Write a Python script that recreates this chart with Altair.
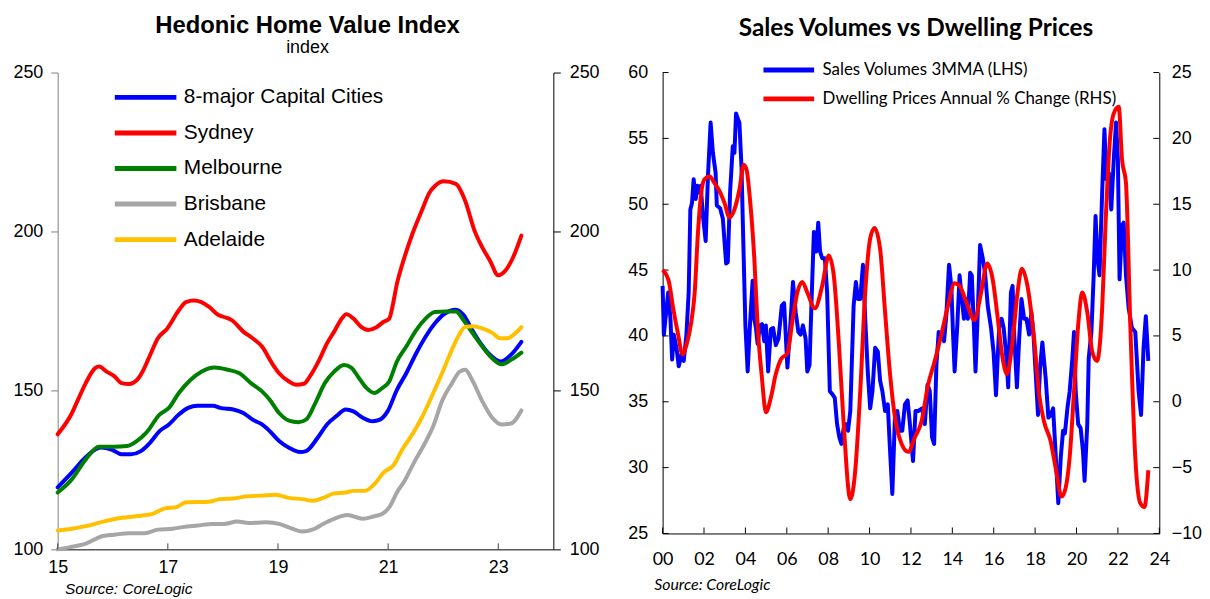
import altair as alt
import pandas as pd

# ---------------- Left panel: Hedonic Home Value Index ----------------
HV_SERIES = ["8-major Capital Cities", "Sydney", "Melbourne", "Brisbane", "Adelaide"]
HV_COLORS = ["#0000FF", "#FF0000", "#008000", "#A6A6A6", "#FFC000"]
HV_XTICKS = [15, 17, 19, 21, 23]
HV_YTICKS = [100, 150, 200, 250]

CAP_T = [15.0, 15.26, 15.47, 15.64, 15.78, 15.99, 16.16, 16.33, 16.51, 16.68, 16.85, 17.02, 17.2, 17.37, 17.54,
         17.82, 17.95, 18.19, 18.37, 18.54, 18.71, 18.85, 19.02, 19.2, 19.4, 19.51, 19.72, 19.89, 20.06, 20.23,
         20.37, 20.54, 20.72, 20.85, 20.99, 21.16, 21.33, 21.51, 21.68, 21.85, 22.03, 22.23, 22.37, 22.51, 22.68,
         22.85, 23.04, 23.23, 23.42]
CAP_V = [119.5, 124.2, 128.3, 130.9, 132.0, 131.3, 129.9, 129.9, 130.9, 133.6, 137.2, 139.3, 142.4, 144.5, 145.2,
         145.2, 144.5, 144.0, 142.9, 140.8, 139.3, 137.2, 134.1, 132.0, 130.6, 130.9, 135.1, 139.3, 141.9, 144.0,
         143.4, 141.4, 140.3, 140.8, 143.4, 150.2, 155.4, 161.7, 166.9, 171.1, 174.2, 175.4, 173.7, 169.5, 164.8,
         161.2, 159.1, 161.2, 165.3]

SYD_T = [15.0, 15.26, 15.37, 15.51, 15.68, 15.75, 15.89, 16.02, 16.16, 16.30, 16.44, 16.54, 16.68, 16.82, 16.99,
         17.20, 17.33, 17.47, 17.61, 17.75, 17.92, 18.02, 18.16, 18.37, 18.54, 18.71, 18.89, 19.02, 19.20, 19.33,
         19.47, 19.58, 19.75, 19.89, 20.02, 20.16, 20.24, 20.37, 20.51, 20.64, 20.78, 20.92, 21.02, 21.09, 21.16,
         21.26, 21.44, 21.61, 21.75, 21.85, 22.01, 22.23, 22.40, 22.57, 22.71, 22.85, 23.00, 23.13, 23.27, 23.42]
SYD_V = [136.2, 142.9, 147.1, 152.3, 157.0, 157.5, 155.9, 154.6, 152.3, 152.0, 153.3, 155.9, 161.2, 166.4, 169.5,
         175.2, 177.8, 178.3, 177.8, 176.3, 173.7, 173.1, 172.1, 168.5, 166.4, 163.8, 158.6, 155.4, 152.8, 151.8,
         152.1, 154.4, 159.6, 164.8, 168.5, 172.6, 174.0, 172.6, 170.0, 169.0, 169.8, 171.6, 172.6, 177.3, 183.6,
         189.8, 199.2, 206.5, 212.2, 214.3, 215.8, 215.0, 209.6, 200.2, 195.0, 190.8, 186.2, 187.7, 191.9, 198.7]

MEL_T = [15.0, 15.26, 15.51, 15.75, 16.02, 16.26, 16.44, 16.61, 16.85, 17.02, 17.20, 17.41, 17.61, 17.85, 18.09,
         18.30, 18.51, 18.71, 18.85, 19.02, 19.20, 19.37, 19.51, 19.68, 19.85, 20.02, 20.20, 20.33, 20.47, 20.61,
         20.75, 20.89, 21.02, 21.16, 21.33, 21.51, 21.68, 21.85, 22.06, 22.23, 22.37, 22.54, 22.71, 22.89, 23.06,
         23.23, 23.42]
MEL_V = [117.9, 122.1, 128.3, 132.3, 132.3, 132.5, 134.1, 136.7, 142.4, 144.5, 149.2, 153.3, 155.9, 157.2, 156.5,
         155.4, 152.3, 149.7, 147.1, 142.9, 140.5, 140.0, 140.8, 146.1, 152.3, 155.9, 158.0, 157.2, 153.9, 150.7,
         149.2, 150.7, 152.8, 159.1, 163.8, 169.0, 172.6, 174.7, 174.8, 174.8, 172.1, 167.9, 163.8, 160.1, 158.2,
         159.6, 161.9]

BNE_T = [15.0, 15.23, 15.51, 15.82, 16.02, 16.30, 16.58, 16.82, 17.09, 17.27, 17.54, 17.82, 18.02, 18.26, 18.47,
         18.78, 19.02, 19.26, 19.44, 19.64, 19.82, 20.02, 20.26, 20.54, 20.75, 20.89, 21.02, 21.16, 21.30, 21.47,
         21.64, 21.82, 21.99, 22.16, 22.30, 22.40, 22.54, 22.71, 22.89, 23.06, 23.23, 23.42]
BNE_V = [100.0, 100.7, 101.8, 104.2, 104.6, 105.1, 105.1, 106.2, 106.5, 107.0, 107.5, 108.0, 108.0, 108.75, 108.3,
         108.5, 108.0, 106.5, 105.6, 106.3, 108.0, 109.6, 110.8, 109.6, 110.4, 111.1, 113.2, 117.9, 121.6, 127.3,
         132.5, 138.8, 147.1, 152.3, 155.9, 156.5, 152.8, 146.6, 141.4, 139.3, 139.6, 143.7]

ADL_T = [15.0, 15.26, 15.51, 15.78, 15.99, 16.26, 16.51, 16.71, 16.95, 17.16, 17.33, 17.75, 17.95, 18.19, 18.44,
         18.71, 18.95, 19.20, 19.44, 19.64, 19.82, 20.02, 20.23, 20.37, 20.58, 20.75, 20.92, 21.09, 21.26, 21.44,
         21.61, 21.82, 21.99, 22.13, 22.27, 22.40, 22.54, 22.71, 22.89, 23.03, 23.16, 23.27, 23.42]
ADL_V = [105.9, 106.5, 107.3, 108.5, 109.4, 110.1, 110.6, 111.1, 112.9, 113.3, 114.8, 115.0, 115.8, 116.0, 116.7,
         116.9, 117.2, 116.2, 115.8, 115.3, 116.2, 117.6, 117.9, 118.4, 118.4, 120.5, 124.2, 126.3, 131.5, 136.2,
         141.4, 149.2, 155.9, 161.7, 166.9, 170.0, 170.2, 169.5, 168.1, 166.4, 166.4, 167.4, 169.9]

# ---------------- Right panel: Sales Volumes vs Dwelling Prices ----------------
SV_LEGEND = ["Sales Volumes 3MMA (LHS)", "Dwelling Prices Annual % Change (RHS)"]
SV_COLORS = ["#0000FF", "#FF0000"]
SV_XTICKS = [0, 2, 4, 6, 8, 10, 12, 14, 16, 18, 20, 22, 24]
SV_YTICKS_L = [25, 30, 35, 40, 45, 50, 55, 60]
SV_YTICKS_R = [-10, -5, 0, 5, 10, 15, 20, 25]

SALES_T = [0.00, 0.06, 0.19, 0.27, 0.38, 0.46, 0.54, 0.67, 0.78, 0.91,
           1.02, 1.15, 1.26, 1.34, 1.42, 1.50, 1.60, 1.68, 1.76, 1.84,
           1.95, 2.08, 2.19, 2.32, 2.43, 2.56, 2.62, 2.78, 2.91, 3.07,
           3.15, 3.26, 3.39, 3.47, 3.55, 3.63, 3.71, 3.81, 3.90, 4.00,
           4.11, 4.22, 4.35, 4.43, 4.51, 4.59, 4.70, 4.80, 4.91, 4.99,
           5.10, 5.23, 5.34, 5.47, 5.60, 5.76, 5.87, 6.03, 6.19, 6.30,
           6.43, 6.56, 6.67, 6.78, 6.91, 6.99, 7.10, 7.20, 7.31, 7.42,
           7.52, 7.61, 7.71, 7.84, 7.95, 8.08, 8.19, 8.32, 8.43, 8.54,
           8.64, 8.75, 8.86, 8.96, 9.07, 9.23, 9.34, 9.44, 9.55, 9.68,
           9.79, 9.92, 10.03, 10.14, 10.27, 10.40, 10.51, 10.62, 10.75, 10.88,
           10.99, 11.10, 11.23, 11.34, 11.47, 11.58, 11.71, 11.84, 11.95, 12.10,
           12.22, 12.35, 12.54, 12.67, 12.80, 12.91, 13.02, 13.12, 13.23, 13.34,
           13.47, 13.60, 13.71, 13.84, 13.95, 14.03, 14.11, 14.24, 14.35, 14.46,
           14.56, 14.67, 14.75, 14.86, 14.94, 15.04, 15.12, 15.23, 15.34, 15.47,
           15.58, 15.71, 15.87, 15.99, 16.11, 16.19, 16.27, 16.38, 16.48, 16.59,
           16.70, 16.83, 16.91, 16.99, 17.12, 17.23, 17.34, 17.47, 17.58, 17.71,
           17.82, 17.92, 18.03, 18.14, 18.24, 18.35, 18.51, 18.64, 18.76, 18.87,
           19.00, 19.12, 19.24, 19.35, 19.44, 19.56, 19.67, 19.80, 19.88, 19.96,
           20.08, 20.20, 20.31, 20.39, 20.52, 20.59, 20.72, 20.83, 20.92, 21.01,
           21.11, 21.24, 21.35, 21.44, 21.56, 21.68, 21.80, 21.91, 22.00, 22.08,
           22.20, 22.28, 22.39, 22.52, 22.68, 22.84, 23.00, 23.12, 23.24, 23.35,
           23.47]
SALES_V = [43.8, 40.1, 42.1, 43.3, 41.3, 38.2, 40.1, 39.1, 37.7, 38.6,
           38.1, 40.1, 43.3, 49.6, 50.1, 51.9, 50.4, 51.4, 50.9, 51.4,
           49.1, 47.2, 52.1, 56.2, 53.9, 52.4, 49.9, 49.7, 48.9, 45.5,
           45.6, 50.9, 54.4, 53.9, 56.9, 56.5, 56.2, 52.9, 47.1, 40.8,
           37.3, 40.8, 44.2, 41.3, 40.6, 39.4, 40.8, 40.9, 39.6, 40.8,
           37.3, 40.5, 40.6, 39.3, 39.8, 42.3, 42.5, 37.6, 41.3, 44.1,
           41.8, 40.3, 40.1, 40.8, 39.8, 37.3, 37.8, 42.8, 47.9, 46.4,
           48.6, 46.4, 45.9, 45.9, 43.3, 35.8, 35.6, 35.3, 33.3, 32.3,
           31.8, 33.0, 33.3, 32.8, 34.3, 42.3, 44.1, 42.8, 42.8, 45.4,
           41.3, 37.1, 34.5, 35.8, 39.1, 38.8, 36.6, 35.8, 34.3, 34.8,
           31.3, 28.0, 34.0, 34.3, 32.8, 32.8, 34.8, 35.1, 33.3, 30.5,
           34.3, 34.3, 34.5, 33.3, 36.3, 35.8, 32.3, 31.8, 37.8, 40.3,
           40.1, 39.6, 41.6, 45.4, 43.8, 40.3, 37.3, 40.8, 44.6, 42.8,
           41.3, 42.8, 41.3, 44.8, 44.6, 40.8, 37.3, 41.8, 46.9, 45.9,
           44.8, 42.3, 40.6, 38.8, 35.5, 38.3, 40.8, 41.3, 40.6, 38.8,
           36.1, 43.3, 43.8, 40.1, 36.1, 39.8, 42.8, 41.3, 41.3, 40.1,
           41.8, 40.1, 37.1, 34.0, 37.6, 39.5, 36.8, 33.8, 34.0, 34.5,
           30.8, 27.3, 30.8, 32.8, 32.6, 34.5, 35.8, 38.3, 40.3, 35.8,
           33.3, 33.0, 31.3, 29.0, 33.3, 38.3, 40.3, 44.6, 49.1, 45.9,
           44.6, 50.9, 55.7, 51.9, 52.4, 49.6, 53.4, 56.2, 53.4, 44.3,
           48.4, 48.6, 44.6, 42.1, 40.6, 40.3, 35.8, 34.0, 39.1, 41.5,
           38.1]

PRICE_T = [0.00, 0.29, 0.51, 0.75, 0.96, 1.15, 1.39, 1.55, 1.71, 1.87,
           2.03, 2.27, 2.51, 2.75, 2.99, 3.23, 3.47, 3.71, 3.92, 4.06,
           4.22, 4.43, 4.59, 4.80, 4.99, 5.23, 5.47, 5.71, 6.03, 6.27,
           6.51, 6.75, 6.99, 7.36, 7.71, 8.03, 8.27, 8.51, 8.75, 9.07,
           9.31, 9.55, 9.79, 10.03, 10.24, 10.51, 10.75, 10.99, 11.23, 11.55,
           11.87, 12.19, 12.51, 12.83, 13.15, 13.47, 13.79, 14.11, 14.35, 14.67,
           15.07, 15.39, 15.68, 15.95, 16.19, 16.43, 16.64, 16.91, 17.15, 17.36,
           17.63, 17.95, 18.20, 18.43, 18.75, 18.99, 19.28, 19.48, 19.67, 19.88,
           20.08, 20.28, 20.52, 20.76, 20.99, 21.24, 21.40, 21.60, 21.80, 22.04,
           22.20, 22.39, 22.60, 22.84, 23.08, 23.28, 23.47]
PRICE_V = [10.0, 9.2, 7.1, 5.1, 3.6, 4.3, 6.1, 8.3, 12.9, 15.9,
           16.9, 17.1, 16.6, 16.0, 15.1, 14.0, 14.6, 16.1, 18.0, 17.6,
           15.4, 10.9, 5.8, 1.8, -0.8, 0.3, 2.1, 3.2, 3.7, 6.1,
           8.3, 9.1, 8.3, 7.1, 8.8, 11.1, 9.6, 4.6, -1.7, -7.4,
           -5.2, 0.8, 8.3, 12.4, 13.2, 11.6, 6.8, 2.1, -1.2, -3.2,
           -3.8, -2.7, -1.5, 1.3, 3.1, 5.1, 7.3, 9.0, 8.8, 7.6,
           6.2, 8.3, 10.5, 9.3, 6.4, 3.3, 2.1, 4.6, 8.3, 10.1,
           8.8, 4.8, 0.5, -1.5, -3.0, -5.0, -7.2, -6.5, -4.2, 0.8,
           5.8, 8.3, 6.8, 3.8, 3.1, 7.1, 13.4, 19.6, 21.9, 22.4,
           18.4, 16.6, 5.8, -4.2, -7.7, -8.0, -5.2]

ARIAL = "Liberation Sans"
CAL = "Lato"

# ---------------- build left panel ----------------
hv_rows = []
for name, ts, vs in zip(HV_SERIES, [CAP_T, SYD_T, MEL_T, BNE_T, ADL_T], [CAP_V, SYD_V, MEL_V, BNE_V, ADL_V]):
    for t, v in zip(ts, vs):
        hv_rows.append({"t": t, "v": v, "series": name})
hv = pd.DataFrame(hv_rows)

W1, H1 = 499, 480
x1_scale = alt.Scale(domain=[15, 24], nice=False, zero=False)
y1_scale = alt.Scale(domain=[100, 250], nice=False, zero=False)

legend1 = alt.Legend(title=None, orient="none", legendX=55, legendY=14.5, direction="vertical",
                     symbolType="stroke", symbolSize=3844, symbolStrokeWidth=5, clipHeight=21,
                     rowPadding=13.8, labelFont=ARIAL, labelFontSize=21, labelColor="black",
                     labelOffset=5, labelLimit=0, padding=0)

x1_axis = alt.Axis(values=HV_XTICKS, format="d", labelFont=ARIAL, labelFontSize=18,
                   labelColor="black", labelPadding=9, labelFlush=False, ticks=False, tickSize=0,
                   domainColor="black", domainWidth=1, grid=False,
                   title="Source: CoreLogic", titleFont=ARIAL, titleFontSize=15.5,
                   titleFontStyle="italic", titleFontWeight="normal", titleColor="black",
                   titleAlign="left", titleBaseline="top", titleX=7, titleY=32)

lines1 = alt.Chart(hv).mark_line(strokeWidth=4, strokeCap="round", strokeJoin="round",
                                 interpolate="monotone").encode(
    x=alt.X("t:Q", scale=x1_scale, axis=x1_axis),
    y=alt.Y("v:Q", scale=y1_scale,
            axis=alt.Axis(values=HV_YTICKS, orient="left", labelFont=ARIAL, labelFontSize=18,
                          labelColor="black", labelPadding=8, tickSize=7, tickColor="#7f7f7f",
                          domainColor="#7f7f7f", grid=False, title=None)),
    color=alt.Color("series:N", scale=alt.Scale(domain=HV_SERIES, range=HV_COLORS), legend=legend1),
)

xticks1 = alt.Chart(pd.DataFrame({"t": HV_XTICKS})).mark_rule(color="#404040", strokeWidth=1).encode(
    x=alt.X("t:Q", scale=x1_scale, axis=x1_axis),
    y=alt.value(H1), y2=alt.value(H1 - 6),
)

raxis1 = alt.Chart(pd.DataFrame({"v": HV_YTICKS})).mark_point(opacity=0).encode(
    x=alt.value(0),
    y=alt.Y("v:Q", scale=y1_scale,
            axis=alt.Axis(values=HV_YTICKS, orient="right", labelFont=ARIAL, labelFontSize=18,
                          labelColor="black", labelPadding=9, tickSize=7, tickColor="black",
                          domainColor="black", grid=False, title=None)),
)

panel1 = alt.layer(alt.layer(lines1, xticks1), raxis1).resolve_scale(y="independent").properties(
    width=W1, height=H1,
    title=alt.TitleParams(text="Hedonic Home Value Index", subtitle="index", font=ARIAL, fontSize=24,
                          fontWeight="bold", color="black", subtitleFont=ARIAL, subtitleFontSize=18,
                          subtitleColor="black", anchor="middle", offset=7, subtitlePadding=1, dx=2),
)

# ---------------- build right panel ----------------
W2, H2 = 500, 464
x2_scale = alt.Scale(domain=[0, 24], nice=False, zero=False)
yl_scale = alt.Scale(domain=[25, 60], nice=False, zero=False)
yr_scale = alt.Scale(domain=[-10, 25], nice=False, zero=False)
c2_scale = alt.Scale(domain=SV_LEGEND, range=SV_COLORS)

sales = pd.DataFrame({"t": SALES_T, "v": SALES_V, "s": SV_LEGEND[0]})
price = pd.DataFrame({"t": PRICE_T, "v": PRICE_V, "s": SV_LEGEND[1]})

legend2 = alt.Legend(title=None, orient="none", legendX=99, legendY=-11, direction="vertical",
                     symbolType="stroke", symbolSize=2601, symbolStrokeWidth=5, clipHeight=17,
                     rowPadding=11, labelFont=CAL, labelFontSize=17, labelColor="black",
                     labelOffset=6, labelLimit=0, padding=0)

x2_axis = alt.Axis(values=SV_XTICKS,
                   labelExpr="datum.value < 10 ? '0' + datum.value : '' + datum.value",
                   labelFont=CAL, labelFontSize=18, labelColor="black", labelPadding=17,
                   labelFlush=False, ticks=False, tickSize=0, domainColor="black", grid=False,
                   title="Source: CoreLogic", titleFont=CAL, titleFontSize=16, titleFontStyle="italic",
                   titleFontWeight="normal", titleColor="black", titleAlign="left",
                   titleBaseline="top", titleX=-9, titleY=43)

yl_axis = alt.Axis(values=SV_YTICKS_L, orient="left", labelFont=ARIAL, labelFontSize=18,
                   labelColor="black", labelPadding=15, ticks=False, tickSize=0,
                   domainColor="black", grid=False, title=None)

blue = alt.Chart(sales).mark_line(strokeWidth=4, strokeJoin="round").encode(
    x=alt.X("t:Q", scale=x2_scale, axis=x2_axis),
    y=alt.Y("v:Q", scale=yl_scale, axis=yl_axis),
    color=alt.Color("s:N", scale=c2_scale, legend=legend2),
)

ytl = alt.Chart(pd.DataFrame({"v": SV_YTICKS_L})).mark_rule(color="black", strokeWidth=1).encode(
    y=alt.Y("v:Q", scale=yl_scale, axis=yl_axis), x=alt.value(0), x2=alt.value(6))
ytr = alt.Chart(pd.DataFrame({"v": SV_YTICKS_L})).mark_rule(color="black", strokeWidth=1).encode(
    y=alt.Y("v:Q", scale=yl_scale, axis=yl_axis), x=alt.value(W2 - 6), x2=alt.value(W2))
xt2 = alt.Chart(pd.DataFrame({"t": SV_XTICKS})).mark_rule(color="black", strokeWidth=1).encode(
    x=alt.X("t:Q", scale=x2_scale, axis=x2_axis), y=alt.value(H2), y2=alt.value(H2 - 6))

red = alt.Chart(price).mark_line(strokeWidth=4, strokeJoin="round", interpolate="monotone").encode(
    x=alt.X("t:Q", scale=x2_scale, axis=x2_axis),
    y=alt.Y("v:Q", scale=yr_scale,
            axis=alt.Axis(values=SV_YTICKS_R, orient="right", labelFont=ARIAL, labelFontSize=18,
                          labelColor="black", labelPadding=12, ticks=False, tickSize=0,
                          domainColor="black", grid=False, title=None)),
    color=alt.Color("s:N", scale=c2_scale, legend=legend2),
)

panel2 = alt.layer(alt.layer(blue, ytl, ytr, xt2), red).resolve_scale(y="independent").properties(
    width=W2, height=H2,
    title=alt.TitleParams(text="Sales Volumes vs Dwelling Prices", font=CAL, fontSize=24.5,
                          fontWeight="bold", color="black", anchor="middle", offset=20.5, dx=5),
)

chart = alt.hconcat(panel1, panel2, spacing=27).resolve_scale(color="independent").resolve_legend(
    color="independent").properties(
    padding={"left": 4, "top": 4, "right": 0, "bottom": 0},
    background="white",
).configure_view(stroke=None)

chart.save("out.html", embed_options={"renderer": "svg", "actions": False})
